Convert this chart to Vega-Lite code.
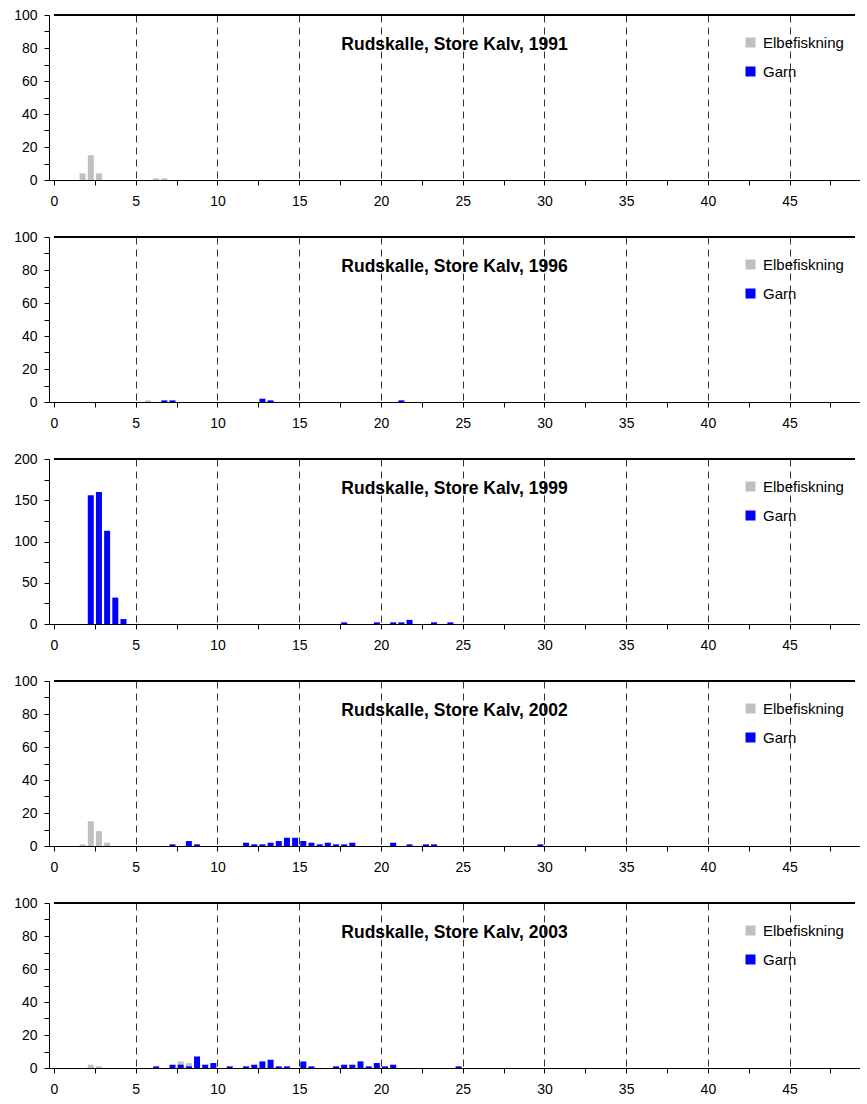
{
"$schema": "https://vega.github.io/schema/vega-lite/v6.json",
"padding": {"left": 13, "top": 8, "right": 0, "bottom": 0},
"background": "white",
"config": {"view": {"stroke": null}, "font": "Liberation Sans",
 "axis": {"labelFont": "Liberation Sans", "labelFontSize": 14, "labelColor": "#000", "tickColor": "#000", "domainColor": "#000", "tickSize": 5, "title": null, "labelOverlap": false},
 "axisX": {"labelPadding": 9, "labelFlush": false},
 "axisY": {"labelPadding": 7},
 "title": {"anchor": "middle", "frame": "group", "offset": -45, "baseline": "alphabetic", "fontSize": 17.5, "font": "Liberation Sans", "fontWeight": "bold", "color": "#000"},
 "legend": {"title": null, "orient": "none", "legendX": 694, "legendY": 20, "symbolType": "square", "symbolSize": 100, "symbolStrokeWidth": 0, "labelFontSize": 15, "labelFont": "Liberation Sans", "labelColor": "#000", "labelOffset": 5, "rowPadding": 13, "padding": 0}
},
"datasets": {
"fish": [
{"year":1991,"length":1.75,"n":4,"method":"Elbefiskning"},
{"year":1991,"length":2.25,"n":15,"method":"Elbefiskning"},
{"year":1991,"length":2.75,"n":4,"method":"Elbefiskning"},
{"year":1991,"length":6.25,"n":1,"method":"Elbefiskning"},
{"year":1991,"length":6.75,"n":1,"method":"Elbefiskning"},
{"year":1996,"length":5.75,"n":1,"method":"Elbefiskning"},
{"year":1996,"length":6.75,"n":1,"method":"Garn"},
{"year":1996,"length":7.25,"n":1,"method":"Garn"},
{"year":1996,"length":12.75,"n":2,"method":"Garn"},
{"year":1996,"length":13.25,"n":1,"method":"Garn"},
{"year":1996,"length":21.25,"n":1,"method":"Garn"},
{"year":1999,"length":2.25,"n":156,"method":"Garn"},
{"year":1999,"length":2.75,"n":160,"method":"Garn"},
{"year":1999,"length":3.25,"n":113,"method":"Garn"},
{"year":1999,"length":3.75,"n":32,"method":"Garn"},
{"year":1999,"length":4.25,"n":6,"method":"Garn"},
{"year":1999,"length":17.75,"n":2,"method":"Garn"},
{"year":1999,"length":19.75,"n":2,"method":"Garn"},
{"year":1999,"length":20.75,"n":2,"method":"Garn"},
{"year":1999,"length":21.25,"n":2,"method":"Garn"},
{"year":1999,"length":21.75,"n":5,"method":"Garn"},
{"year":1999,"length":23.25,"n":2,"method":"Garn"},
{"year":1999,"length":24.25,"n":2,"method":"Garn"},
{"year":2002,"length":1.75,"n":1,"method":"Elbefiskning"},
{"year":2002,"length":2.25,"n":15,"method":"Elbefiskning"},
{"year":2002,"length":2.75,"n":9,"method":"Elbefiskning"},
{"year":2002,"length":3.25,"n":2,"method":"Elbefiskning"},
{"year":2002,"length":7.25,"n":1,"method":"Garn"},
{"year":2002,"length":8.25,"n":3,"method":"Garn"},
{"year":2002,"length":8.75,"n":1,"method":"Garn"},
{"year":2002,"length":11.75,"n":2,"method":"Garn"},
{"year":2002,"length":12.25,"n":1,"method":"Garn"},
{"year":2002,"length":12.75,"n":1,"method":"Garn"},
{"year":2002,"length":13.25,"n":2,"method":"Garn"},
{"year":2002,"length":13.75,"n":3,"method":"Garn"},
{"year":2002,"length":14.25,"n":5,"method":"Garn"},
{"year":2002,"length":14.75,"n":5,"method":"Garn"},
{"year":2002,"length":15.25,"n":3,"method":"Garn"},
{"year":2002,"length":15.75,"n":2,"method":"Garn"},
{"year":2002,"length":16.25,"n":1,"method":"Garn"},
{"year":2002,"length":16.75,"n":2,"method":"Garn"},
{"year":2002,"length":17.25,"n":1,"method":"Garn"},
{"year":2002,"length":17.75,"n":1,"method":"Garn"},
{"year":2002,"length":18.25,"n":2,"method":"Garn"},
{"year":2002,"length":20.75,"n":2,"method":"Garn"},
{"year":2002,"length":21.75,"n":1,"method":"Garn"},
{"year":2002,"length":22.75,"n":1,"method":"Garn"},
{"year":2002,"length":23.25,"n":1,"method":"Garn"},
{"year":2002,"length":29.75,"n":1,"method":"Garn"},
{"year":2003,"length":2.25,"n":2,"method":"Elbefiskning"},
{"year":2003,"length":2.75,"n":1,"method":"Elbefiskning"},
{"year":2003,"length":7.75,"n":4,"method":"Elbefiskning"},
{"year":2003,"length":8.25,"n":3,"method":"Elbefiskning"},
{"year":2003,"length":6.25,"n":1,"method":"Garn"},
{"year":2003,"length":7.25,"n":2,"method":"Garn"},
{"year":2003,"length":7.75,"n":2,"method":"Garn"},
{"year":2003,"length":8.25,"n":1,"method":"Garn"},
{"year":2003,"length":8.75,"n":7,"method":"Garn"},
{"year":2003,"length":9.25,"n":2,"method":"Garn"},
{"year":2003,"length":9.75,"n":3,"method":"Garn"},
{"year":2003,"length":10.75,"n":1,"method":"Garn"},
{"year":2003,"length":11.75,"n":1,"method":"Garn"},
{"year":2003,"length":12.25,"n":2,"method":"Garn"},
{"year":2003,"length":12.75,"n":4,"method":"Garn"},
{"year":2003,"length":13.25,"n":5,"method":"Garn"},
{"year":2003,"length":13.75,"n":1,"method":"Garn"},
{"year":2003,"length":14.25,"n":1,"method":"Garn"},
{"year":2003,"length":15.25,"n":4,"method":"Garn"},
{"year":2003,"length":15.75,"n":1,"method":"Garn"},
{"year":2003,"length":17.25,"n":1,"method":"Garn"},
{"year":2003,"length":17.75,"n":2,"method":"Garn"},
{"year":2003,"length":18.25,"n":2,"method":"Garn"},
{"year":2003,"length":18.75,"n":4,"method":"Garn"},
{"year":2003,"length":19.25,"n":1,"method":"Garn"},
{"year":2003,"length":19.75,"n":3,"method":"Garn"},
{"year":2003,"length":20.25,"n":1,"method":"Garn"},
{"year":2003,"length":20.75,"n":2,"method":"Garn"},
{"year":2003,"length":24.75,"n":1,"method":"Garn"}
]
},
"data": {"name": "fish"},
"bounds": "flush",
"spacing": 57,
"resolve": {"scale": {"color": "independent", "y": "independent", "x": "independent"}, "legend": {"color": "independent"}},
"vconcat": [
{
"width": 811, "height": 165,
"title": "Rudskalle, Store Kalv, 1991",
"resolve": {"axis": {"x": "independent", "y": "independent"}},
"layer": [
{"transform": [{"filter": "datum.year == 1991"}],
"mark": {"type": "bar", "size": 6},
"encoding": {
"x": {"field": "length", "type": "quantitative", "scale": {"domain": [0, 49], "nice": false}, "axis": {"orient": "bottom", "values": [0,5,10,15,20,25,30,35,40,45], "grid": true, "gridDash": [7, 5], "gridColor": "#333", "gridOpacity": {"condition": {"test": "datum.value > 0", "value": 1}, "value": 0}}},
"y": {"field": "n", "type": "quantitative", "stack": null, "scale": {"domain": [0, 100], "nice": false}, "axis": {"orient": "left", "values": [0,20,40,60,80,100], "grid": false}},
"color": {"field": "method", "type": "nominal", "scale": {"domain": ["Elbefiskning", "Garn"], "range": ["#C0C0C0", "#0000FF"]}}
}},
{"mark": {"type": "rule", "color": "#000", "strokeWidth": 1},
"encoding": {
"x": {"datum": 0, "axis": {"orient": "bottom", "values": [2.5,7.5,12.5,17.5,22.5,27.5,32.5,37.5,42.5,47.5], "labels": false, "domain": false, "grid": false}},
"x2": {"datum": 49},
"y": {"datum": 100, "axis": {"orient": "left", "values": [10,30,50,70,90], "labels": false, "domain": false, "grid": false}}
}}
]
},
{
"width": 811, "height": 165,
"title": "Rudskalle, Store Kalv, 1996",
"resolve": {"axis": {"x": "independent", "y": "independent"}},
"layer": [
{"transform": [{"filter": "datum.year == 1996"}],
"mark": {"type": "bar", "size": 6},
"encoding": {
"x": {"field": "length", "type": "quantitative", "scale": {"domain": [0, 49], "nice": false}, "axis": {"orient": "bottom", "values": [0,5,10,15,20,25,30,35,40,45], "grid": true, "gridDash": [7, 5], "gridColor": "#333", "gridOpacity": {"condition": {"test": "datum.value > 0", "value": 1}, "value": 0}}},
"y": {"field": "n", "type": "quantitative", "stack": null, "scale": {"domain": [0, 100], "nice": false}, "axis": {"orient": "left", "values": [0,20,40,60,80,100], "grid": false}},
"color": {"field": "method", "type": "nominal", "scale": {"domain": ["Elbefiskning", "Garn"], "range": ["#C0C0C0", "#0000FF"]}}
}},
{"mark": {"type": "rule", "color": "#000", "strokeWidth": 1},
"encoding": {
"x": {"datum": 0, "axis": {"orient": "bottom", "values": [2.5,7.5,12.5,17.5,22.5,27.5,32.5,37.5,42.5,47.5], "labels": false, "domain": false, "grid": false}},
"x2": {"datum": 49},
"y": {"datum": 100, "axis": {"orient": "left", "values": [10,30,50,70,90], "labels": false, "domain": false, "grid": false}}
}}
]
},
{
"width": 811, "height": 165,
"title": "Rudskalle, Store Kalv, 1999",
"resolve": {"axis": {"x": "independent", "y": "independent"}},
"layer": [
{"transform": [{"filter": "datum.year == 1999"}],
"mark": {"type": "bar", "size": 6},
"encoding": {
"x": {"field": "length", "type": "quantitative", "scale": {"domain": [0, 49], "nice": false}, "axis": {"orient": "bottom", "values": [0,5,10,15,20,25,30,35,40,45], "grid": true, "gridDash": [7, 5], "gridColor": "#333", "gridOpacity": {"condition": {"test": "datum.value > 0", "value": 1}, "value": 0}}},
"y": {"field": "n", "type": "quantitative", "stack": null, "scale": {"domain": [0, 200], "nice": false}, "axis": {"orient": "left", "values": [0,50,100,150,200], "grid": false}},
"color": {"field": "method", "type": "nominal", "scale": {"domain": ["Elbefiskning", "Garn"], "range": ["#C0C0C0", "#0000FF"]}}
}},
{"mark": {"type": "rule", "color": "#000", "strokeWidth": 1},
"encoding": {
"x": {"datum": 0, "axis": {"orient": "bottom", "values": [2.5,7.5,12.5,17.5,22.5,27.5,32.5,37.5,42.5,47.5], "labels": false, "domain": false, "grid": false}},
"x2": {"datum": 49},
"y": {"datum": 200, "axis": {"orient": "left", "values": [25,75,125,175], "labels": false, "domain": false, "grid": false}}
}}
]
},
{
"width": 811, "height": 165,
"title": "Rudskalle, Store Kalv, 2002",
"resolve": {"axis": {"x": "independent", "y": "independent"}},
"layer": [
{"transform": [{"filter": "datum.year == 2002"}],
"mark": {"type": "bar", "size": 6},
"encoding": {
"x": {"field": "length", "type": "quantitative", "scale": {"domain": [0, 49], "nice": false}, "axis": {"orient": "bottom", "values": [0,5,10,15,20,25,30,35,40,45], "grid": true, "gridDash": [7, 5], "gridColor": "#333", "gridOpacity": {"condition": {"test": "datum.value > 0", "value": 1}, "value": 0}}},
"y": {"field": "n", "type": "quantitative", "stack": null, "scale": {"domain": [0, 100], "nice": false}, "axis": {"orient": "left", "values": [0,20,40,60,80,100], "grid": false}},
"color": {"field": "method", "type": "nominal", "scale": {"domain": ["Elbefiskning", "Garn"], "range": ["#C0C0C0", "#0000FF"]}}
}},
{"mark": {"type": "rule", "color": "#000", "strokeWidth": 1},
"encoding": {
"x": {"datum": 0, "axis": {"orient": "bottom", "values": [2.5,7.5,12.5,17.5,22.5,27.5,32.5,37.5,42.5,47.5], "labels": false, "domain": false, "grid": false}},
"x2": {"datum": 49},
"y": {"datum": 100, "axis": {"orient": "left", "values": [10,30,50,70,90], "labels": false, "domain": false, "grid": false}}
}}
]
},
{
"width": 811, "height": 165,
"title": "Rudskalle, Store Kalv, 2003",
"resolve": {"axis": {"x": "independent", "y": "independent"}},
"layer": [
{"transform": [{"filter": "datum.year == 2003"}],
"mark": {"type": "bar", "size": 6},
"encoding": {
"x": {"field": "length", "type": "quantitative", "scale": {"domain": [0, 49], "nice": false}, "axis": {"orient": "bottom", "values": [0,5,10,15,20,25,30,35,40,45], "grid": true, "gridDash": [7, 5], "gridColor": "#333", "gridOpacity": {"condition": {"test": "datum.value > 0", "value": 1}, "value": 0}}},
"y": {"field": "n", "type": "quantitative", "stack": null, "scale": {"domain": [0, 100], "nice": false}, "axis": {"orient": "left", "values": [0,20,40,60,80,100], "grid": false}},
"color": {"field": "method", "type": "nominal", "scale": {"domain": ["Elbefiskning", "Garn"], "range": ["#C0C0C0", "#0000FF"]}}
}},
{"mark": {"type": "rule", "color": "#000", "strokeWidth": 1},
"encoding": {
"x": {"datum": 0, "axis": {"orient": "bottom", "values": [2.5,7.5,12.5,17.5,22.5,27.5,32.5,37.5,42.5,47.5], "labels": false, "domain": false, "grid": false}},
"x2": {"datum": 49},
"y": {"datum": 100, "axis": {"orient": "left", "values": [10,30,50,70,90], "labels": false, "domain": false, "grid": false}}
}}
]
}
]
}
